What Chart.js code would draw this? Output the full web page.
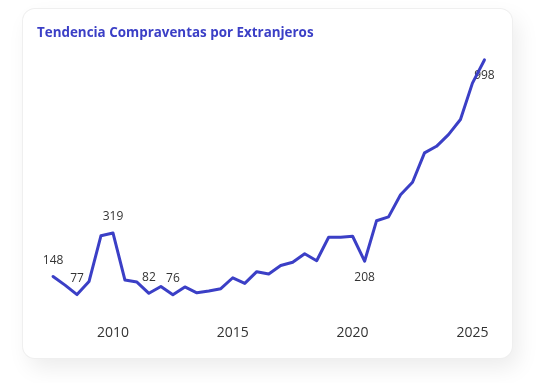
<!DOCTYPE html>
<html><head><meta charset="utf-8">
<script src="https://cdn.jsdelivr.net/npm/chart.js@4.4.1/dist/chart.umd.min.js"></script>
<style>
html,body{margin:0;padding:0;background:#fff;width:548px;height:383px;overflow:hidden;}
#card{position:absolute;left:23px;top:9px;width:489px;height:349px;border-radius:12px;background:#fff;
  box-shadow:0 0 0 1px #efefef, 6px 10px 22px rgba(0,0,0,0.08);}
#card canvas{position:absolute;left:0;top:0;}
</style></head><body>
<div id="card"><canvas id="c" width="489" height="349" style="width:489px;height:349px"></canvas></div>
<script>
const titleText = 'Tendencia Compraventas por Extranjeros';
// semester positions (decimal years)
const periodYears = [2007.5,2008.0,2008.5,2009.0,2009.5,2010.0,2010.5,2011.0,2011.5,2012.0,2012.5,2013.0,2013.5,2014.0,2014.5,2015.0,2015.5,2016.0,2016.5,2017.0,2017.5,2018.0,2018.5,2019.0,2019.5,2020.0,2020.5,2021.0,2021.5,2022.0,2022.5,2023.0,2023.5,2024.0,2024.5,2025.0,2025.5];
const values = [148,114,77,128,308,319,134,126,82,109,76,107,84,91,100,143,121,167,158,191,204,237,210,302,302,306,208,367,382,469,518,633,659,705,764,907,998];
const tickYears = [2010,2015,2020,2025];
const labelIdx = [0,2,5,8,10,26,36];
const labelPos = ['above','above','above','above','above','below','below'];

const lineColor = '#3b3fc6';
const fontFamily = '"Open Sans","Noto Sans",sans-serif';

const labelPlugin = {
  id:'pointLabels',
  beforeDatasetsDraw(chart){
    const ctx = chart.ctx;
    const meta = chart.getDatasetMeta(0);
    ctx.save();
    ctx.font = '12px ' + fontFamily;
    ctx.fillStyle = '#333';
    ctx.textAlign = 'center';
    ctx.textBaseline = 'middle';
    labelIdx.forEach((i,k)=>{
      const pt = meta.data[i];
      const dy = labelPos[k]==='below' ? 16 : -16;
      ctx.fillText(String(values[i]), pt.x, pt.y + dy);
    });
    ctx.restore();
  }
};

new Chart(document.getElementById('c'), {
  type:'line',
  data:{
    datasets:[{
      data: periodYears.map((x,i)=>({x:x, y:values[i]})),
      borderColor: lineColor,
      borderWidth: 3,
      pointRadius: 0,
      tension: 0,
      fill: false,
      borderJoinStyle: 'round',
      borderCapStyle: 'round'
    }]
  },
  options:{
    responsive:false,
    animation:false,
    devicePixelRatio:1,
    layout:{padding:{left:14,right:15.6,top:0,bottom:6}},
    plugins:{
      legend:{display:false},
      tooltip:{enabled:false},
      title:{
        display:true, text:titleText, align:'start', color:lineColor,
        font:{family:fontFamily,size:13.4,weight:'bold'},
        padding:{top:16.5,bottom:12.5}
      }
    },
    scales:{
      x:{
        type:'linear', min:2006.83, max:2026.0,
        grid:{display:false, drawTicks:false},
        border:{display:false},
        afterBuildTicks:(scale)=>{ scale.ticks = tickYears.map(v=>({value:v})); },
        ticks:{color:'#333', padding:10.5, font:{family:fontFamily,size:14}, callback:(v)=>String(v), autoSkip:false, maxRotation:0}
      },
      y:{display:false, min:0, max:1021}
    }
  },
  plugins:[labelPlugin]
});
</script>
</body></html>
